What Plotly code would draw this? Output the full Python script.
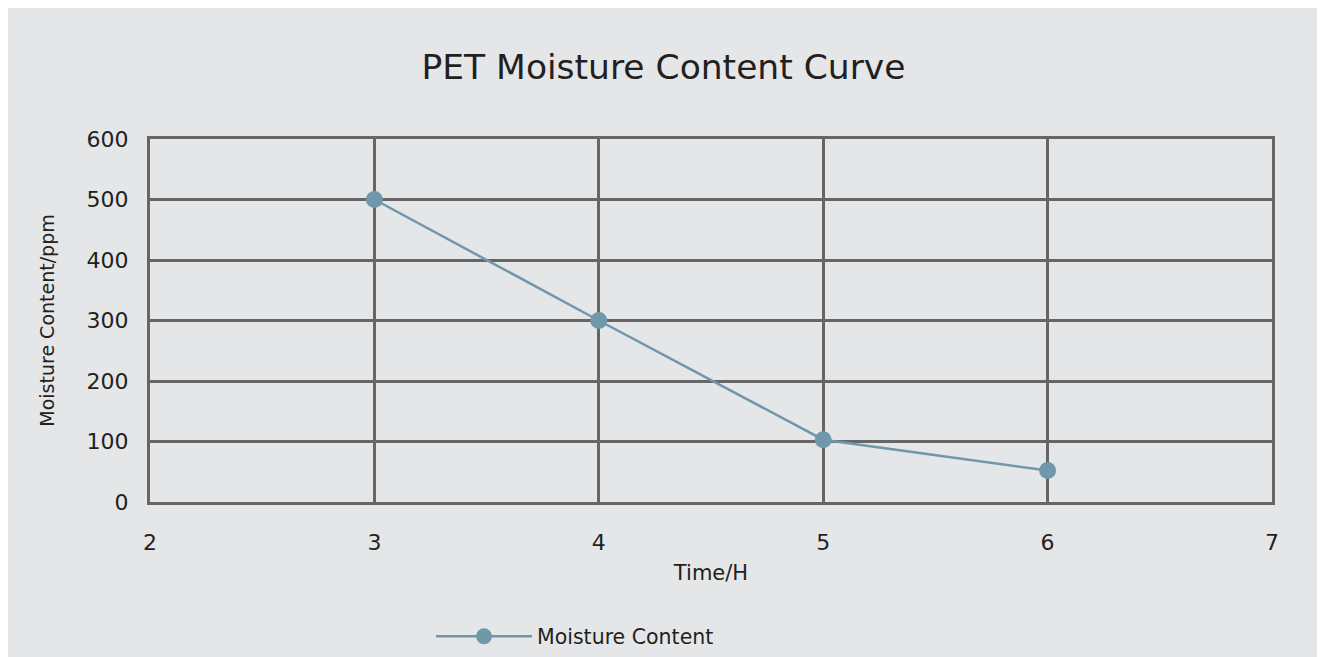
import plotly.graph_objects as go

time_h = [3, 4, 5, 6]
moisture_ppm = [500, 300, 103, 52]
series_name = "Moisture Content"
x_ticks = [2, 3, 4, 5, 6, 7]
y_ticks = [0, 100, 200, 300, 400, 500, 600]

W, H = 1311, 660
L, R, T, B = 142, 47, 131, 162
pw, ph = W - L - R, H - T - B
BG = "#e5e6e8"
GRID = "#666666"
LINEC = "#6f98aa"
TXT = "#231f20"
FONT = "DejaVu Sans"

fig = go.Figure()
fig.add_trace(go.Scatter(
    x=time_h, y=moisture_ppm, name=series_name, mode="lines+markers",
    line=dict(color=LINEC, width=2.5),
    marker=dict(color=LINEC, size=17),
))

fig.update_layout(
    width=W, height=H,
    margin=dict(l=L, r=R, t=T, b=B, pad=0),
    paper_bgcolor=BG, plot_bgcolor=BG,
    font=dict(family=FONT, color=TXT, size=19),
    title=dict(text="PET Moisture Content Curve", x=0.5, xref="container",
               y=1 - 59 / H, yref="container", yanchor="middle", xanchor="center",
               font=dict(size=34.5, color=TXT, family=FONT)),
    showlegend=True,
    legend=dict(orientation="h", x=(567 - L) / pw, xanchor="center",
                y=(H - B - 634) / ph, yanchor="middle",
                bgcolor="rgba(0,0,0,0)", font=dict(size=20.5), itemwidth=96),
)
fig.update_xaxes(range=[2, 7], tickvals=x_ticks, showgrid=True, gridcolor=GRID, gridwidth=3,
                 showline=True, linecolor=GRID, linewidth=3, mirror=True, zeroline=False,
                 ticks="", ticklabelstandoff=19, tickfont=dict(size=22),
                 title=dict(text="Time/H", standoff=11, font=dict(size=21)))
fig.update_yaxes(range=[0, 600], tickvals=y_ticks, showgrid=True, gridcolor=GRID, gridwidth=3,
                 showline=True, linecolor=GRID, linewidth=3, mirror=True, zeroline=False,
                 ticks="", ticklabelstandoff=14, tickfont=dict(size=22),
                 title=dict(text="Moisture Content/ppm", standoff=27, font=dict(size=19)))

fig.write_html("out.html")
